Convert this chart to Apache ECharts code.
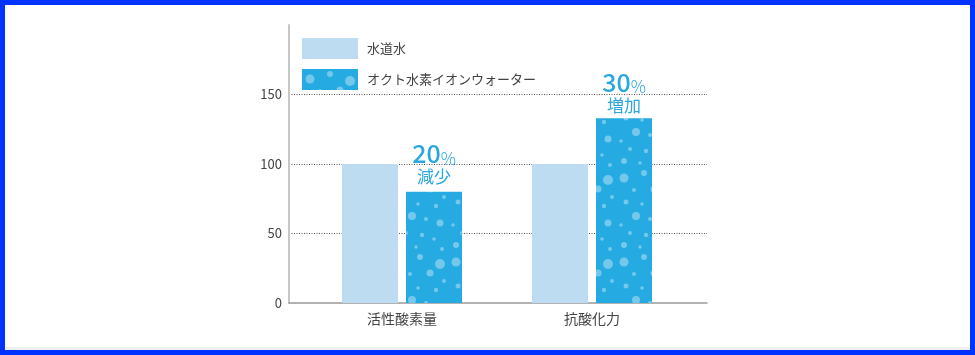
<!DOCTYPE html>
<html>
<head>
<meta charset="utf-8">
<script src="https://cdn.jsdelivr.net/npm/echarts@6/dist/echarts.min.js"></script>
<style>
html,body{margin:0;padding:0;background:#fff;}
#wrap{position:relative;width:975px;height:355px;overflow:hidden;}
#chart{position:absolute;left:0;top:0;width:975px;height:355px;}
#strip{position:absolute;left:5px;right:5px;top:347px;height:3px;background:#f0f0f0;}
#frame{position:absolute;left:0;top:0;width:975px;height:355px;box-sizing:border-box;border:5px solid #0033ff;pointer-events:none;}
</style>
</head>
<body>
<div id="wrap">
  <div id="chart"></div>
  <div id="strip"></div>
  <div id="frame"></div>
</div>
<script>
// ---- data ----
const categories = ['活性酸素量', '抗酸化力'];
const seriesNames = ['水道水', 'オクト水素イオンウォーター'];
const tapWater = [100, 100];
const hydrogenWater = [80, 133];
const changePct = ['20', '30'];
const changeWord = ['減少', '増加'];
const yMin = 0, yMax = 200, yInterval = 50;

// ---- styling ----
const FONT = '"Noto Sans CJK JP", "Noto Sans", sans-serif';
const LIGHT = '#bddcf2';
const DARK = '#25aae1';
const ACCENT = '#2aa7df';

// bubble pattern tile (decoration)
function makeBubbleTile() {
  const W = 56, H = 84;
  const c = document.createElement('canvas');
  c.width = W; c.height = H;
  const ctx = c.getContext('2d');
  ctx.fillStyle = DARK;
  ctx.fillRect(0, 0, W, H);
  ctx.fillStyle = 'rgba(255,255,255,0.36)';
  const b = [
    [8,10,4.5],[28,5,3],[48,12,5],[18,22,2],[38,21,3.5],[52,29,2],[10,34,2.5],
    [26,36,1.8],[44,38,2.2],[20,48,4],[34,51,2],[5,57,1.8],[48,55,3.5],
    [14,65,2],[30,67,2.2],[42,71,1.8],[8,77,3],[24,79,1.8],[50,81,2]
  ];
  b.forEach(function (p) {
    ctx.beginPath();
    ctx.arc(p[0], p[1], p[2], 0, Math.PI * 2);
    ctx.fill();
  });
  return c;
}
const bubbleFill = { image: makeBubbleTile(), repeat: 'repeat' };

const labelDistances = [5, 3];

const chart = echarts.init(document.getElementById('chart'), null, { renderer: 'canvas' });

const option = {
  animation: false,
  textStyle: { fontFamily: FONT },
  legend: {
    orient: 'vertical',
    left: 297,
    top: 33,
    itemWidth: 56,
    itemHeight: 21,
    itemGap: 10,
    icon: 'rect',
    data: seriesNames,
    textStyle: { fontFamily: FONT, fontSize: 13, color: '#444', padding: [0, 0, 0, 4] }
  },
  grid: [
    { left: 289, right: 268, top: 25, bottom: 52 },
    { left: 307, right: 288, top: 25, bottom: 52 }
  ],
  xAxis: [
    {
      gridIndex: 0, type: 'value', min: 0, max: 1,
      axisLine: { show: true, lineStyle: { color: '#999', width: 1.5 } },
      axisTick: { show: false }, axisLabel: { show: false }, splitLine: { show: false }
    },
    {
      gridIndex: 1, type: 'category', data: categories,
      axisLine: { show: false }, axisTick: { show: false },
      axisLabel: { margin: 9, fontSize: 14, color: '#444', fontFamily: FONT }
    }
  ],
  yAxis: [
    {
      gridIndex: 0, type: 'value', min: yMin, max: yMax, interval: yInterval,
      axisLine: { show: true, lineStyle: { color: '#c6c6c6', width: 2 } },
      axisTick: { show: false },
      axisLabel: { showMaxLabel: false, margin: 7, fontSize: 13, color: '#444', fontFamily: FONT },
      splitLine: { show: true, showMinLine: false, showMaxLine: false, lineStyle: { color: '#555', width: 1, type: [1, 1.5] } }
    },
    {
      gridIndex: 1, type: 'value', min: yMin, max: yMax, interval: yInterval,
      axisLine: { show: false }, axisTick: { show: false }, axisLabel: { show: false }, splitLine: { show: false }
    }
  ],
  series: [
    {
      name: seriesNames[0], type: 'bar', xAxisIndex: 1, yAxisIndex: 1,
      barWidth: 56, barGap: '14.3%',
      itemStyle: { color: LIGHT },
      data: tapWater
    },
    {
      name: seriesNames[1], type: 'bar', xAxisIndex: 1, yAxisIndex: 1,
      barWidth: 56, barGap: '14.3%',
      itemStyle: { color: bubbleFill },
      data: hydrogenWater.map(function (v, i) {
        return {
          value: v,
          label: {
            show: true,
            position: 'top',
            distance: labelDistances[i],
            formatter: '{num|' + changePct[i] + '}{pct|%}\n{word|' + changeWord[i] + '}',
            rich: {
              num: { fontSize: 25, lineHeight: 26, color: ACCENT, fontFamily: FONT, fontWeight: 500 },
              pct: { fontSize: 17, lineHeight: 26, color: ACCENT, fontFamily: FONT, fontWeight: 300, verticalAlign: 'bottom' },
              word: { fontSize: 17, lineHeight: 20, color: ACCENT, fontFamily: FONT }
            }
          }
        };
      })
    }
  ]
};
chart.setOption(option);
</script>
</body>
</html>
